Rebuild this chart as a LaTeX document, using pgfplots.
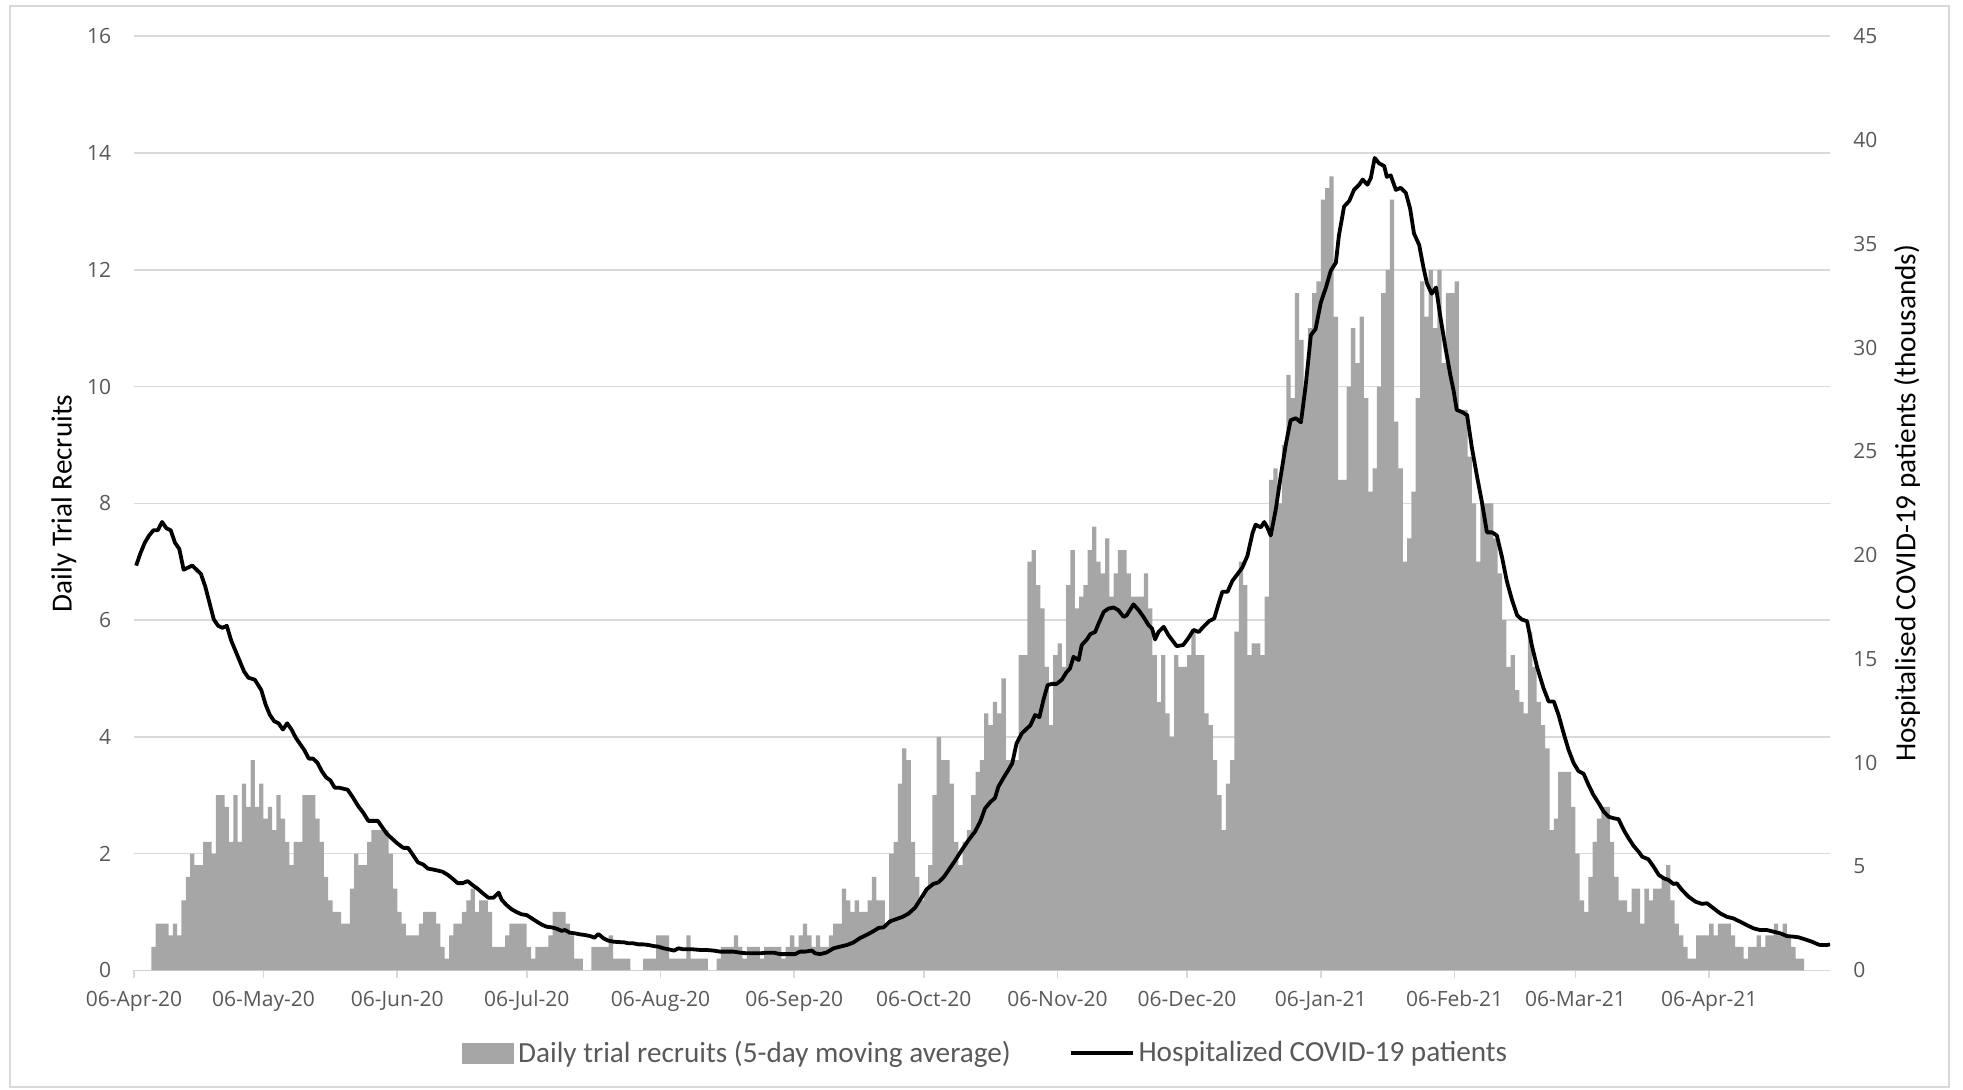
\documentclass[border=0pt]{standalone}
\usepackage{pgfplots}
\pgfplotsset{compat=1.18}
\usepackage{pgfplotstable}
\usepackage{fontspec}
\setmainfont{Carlito}
\newfontfamily\tickfont{Open Sans}
\definecolor{barc}{HTML}{A6A6A6}
\definecolor{gridc}{HTML}{D9D9D9}
\definecolor{tickc}{HTML}{595959}
\definecolor{legc}{HTML}{595959}

% daily trial recruits (5-day moving average), one row per day from 06-Apr-20
\pgfplotstableread[row sep=\\]{
v\\
0\\0\\0\\0\\0.4\\0.8\\0.8\\0.8\\0.6\\0.8\\
0.6\\1.2\\1.6\\2.0\\1.8\\1.8\\2.2\\2.2\\2.0\\3.0\\
3.0\\2.8\\2.2\\3.0\\2.2\\3.2\\2.8\\3.6\\2.8\\3.2\\
2.6\\2.8\\2.4\\3.0\\2.6\\2.2\\1.8\\2.2\\2.2\\3.0\\
3.0\\3.0\\2.6\\2.2\\1.6\\1.2\\1.0\\1.0\\0.8\\0.8\\
1.4\\2.0\\1.8\\1.8\\2.2\\2.4\\2.4\\2.4\\2.4\\2.0\\
1.4\\1.0\\0.8\\0.6\\0.6\\0.6\\0.8\\1.0\\1.0\\1.0\\
0.8\\0.4\\0.2\\0.6\\0.8\\0.8\\1.0\\1.2\\1.4\\1.0\\
1.2\\1.2\\1.0\\0.4\\0.4\\0.4\\0.6\\0.8\\0.8\\0.8\\
0.8\\0.4\\0.2\\0.4\\0.4\\0.4\\0.6\\1.0\\1.0\\1.0\\
0.8\\0.6\\0.2\\0.2\\0\\0\\0.4\\0.4\\0.4\\0.4\\
0.6\\0.2\\0.2\\0.2\\0.2\\0\\0\\0\\0.2\\0.2\\
0.2\\0.6\\0.6\\0.6\\0.2\\0.2\\0.2\\0.2\\0.6\\0.2\\
0.2\\0.2\\0.2\\0\\0\\0.2\\0.4\\0.4\\0.4\\0.6\\
0.4\\0.2\\0.4\\0.4\\0.4\\0.2\\0.4\\0.4\\0.4\\0.4\\
0.2\\0.4\\0.6\\0.4\\0.6\\0.8\\0.6\\0.4\\0.6\\0.4\\
0.4\\0.6\\0.8\\0.8\\1.4\\1.2\\1.0\\1.2\\1.0\\1.0\\
1.2\\1.6\\1.2\\1.2\\0.8\\2.0\\2.2\\3.2\\3.8\\3.6\\
2.2\\1.6\\1.2\\1.4\\1.8\\3.0\\4.0\\3.6\\3.6\\3.2\\
2.2\\1.8\\2.2\\2.4\\3.0\\3.4\\3.6\\4.4\\4.2\\4.6\\
4.4\\5.0\\3.6\\3.6\\3.6\\5.4\\5.4\\7.0\\7.2\\6.6\\
6.2\\5.2\\4.2\\5.4\\5.6\\5.2\\6.6\\7.2\\6.2\\6.4\\
6.6\\7.2\\7.6\\7.0\\6.8\\7.4\\6.4\\6.8\\7.2\\7.2\\
6.8\\6.4\\6.4\\6.4\\6.8\\6.2\\5.4\\4.6\\5.4\\4.4\\
4.0\\5.4\\5.2\\5.2\\5.4\\5.8\\5.4\\5.4\\4.4\\4.2\\
3.6\\3.0\\2.4\\3.2\\3.6\\5.8\\7.0\\6.6\\5.4\\5.6\\
5.6\\5.4\\6.4\\8.4\\8.6\\8.0\\9.0\\10.2\\9.8\\11.6\\
10.8\\10.0\\11.0\\11.6\\11.8\\13.2\\13.4\\13.6\\11.2\\8.4\\
8.4\\10.0\\11.0\\10.4\\11.2\\9.8\\8.2\\8.6\\10.0\\11.6\\
12.0\\13.2\\9.4\\8.6\\7.0\\7.4\\8.2\\9.8\\11.8\\11.2\\
12.0\\11.0\\12.0\\10.4\\11.6\\11.6\\11.8\\9.6\\9.6\\8.8\\
8.0\\7.0\\8.0\\8.0\\8.0\\7.4\\6.8\\6.0\\5.2\\5.4\\
4.8\\4.6\\4.4\\5.8\\5.2\\4.6\\4.2\\3.8\\2.4\\2.6\\
3.4\\3.4\\3.4\\2.8\\2.0\\1.2\\1.0\\1.6\\2.2\\2.6\\
2.8\\2.8\\2.2\\1.6\\1.2\\1.2\\1.0\\1.4\\1.4\\0.8\\
1.4\\1.2\\1.4\\1.4\\1.6\\1.8\\1.2\\0.8\\0.6\\0.4\\
0.2\\0.2\\0.6\\0.6\\0.6\\0.8\\0.6\\0.8\\0.8\\0.8\\
0.6\\0.4\\0.4\\0.2\\0.4\\0.4\\0.6\\0.4\\0.6\\0.6\\
0.8\\0.6\\0.8\\0.6\\0.4\\0.2\\0.2\\
}\bars

% hospitalised COVID-19 patients (thousands), day index and value
\pgfplotstableread{
d h
0 19.5
1 20.1
2 20.6
3 20.95
4 21.2
5 21.2
6 21.6
7 21.3
8 21.2
9 20.6
10 20.3
11 19.3
12 19.4
13 19.5
14 19.3
15 19.1
16 18.5
17 17.7
18 16.9
19 16.6
20 16.5
21 16.6
22 15.9
23 15.4
24 14.9
25 14.4
26 14.1
27.5 14.0
29 13.5
30 12.8
31 12.3
32 12.0
33 11.9
34 11.6
35 11.9
36 11.6
37 11.2
38 10.9
39 10.6
40 10.2
41 10.2
42 10.0
43 9.6
44 9.3
45 9.15
46 8.8
47 8.8
48 8.75
49 8.7
50 8.4
51.5 7.9
52.6 7.6
53.8 7.2
55 7.2
56 7.2
57 6.9
58 6.6
59 6.4
60.6 6.1
61.9 5.9
63 5.9
64 5.6
65.3 5.2
66.5 5.1
67.6 4.9
68.7 4.86
70 4.8
71 4.75
72.2 4.6
73.4 4.4
74.5 4.2
75.7 4.2
76.8 4.3
78 4.1
79 3.95
80.4 3.7
81.6 3.5
82.8 3.5
84 3.74
84.7 3.4
85.8 3.15
87 2.94
88.2 2.8
89.3 2.7
90.5 2.66
91.7 2.5
92.8 2.35
94 2.2
95.1 2.1
96.3 2.07
97.5 2.0
98.6 1.9
99.4 1.94
100.5 1.81
101.7 1.78
102.9 1.73
104 1.7
105.2 1.65
106.2 1.57
107.1 1.75
108.3 1.54
109.4 1.43
110.6 1.38
111.8 1.36
113 1.35
114.1 1.3
115.2 1.3
116.4 1.25
117.5 1.25
118.7 1.22
119.9 1.17
121 1.14
122.2 1.06
123.4 1.01
124.6 0.95
125.7 1.06
126.8 1.01
128 1.01
129.1 1.01
130.7 0.98
132.2 0.98
133.8 0.95
135.3 0.9
136.9 0.9
138.4 0.9
140 0.85
141.5 0.82
143 0.82
144.6 0.82
146.1 0.85
147.7 0.85
149.2 0.78
151.1 0.78
152.7 0.78
153.8 0.9
155 0.9
156.6 0.95
157.3 0.82
158.5 0.78
160 0.86
161.6 1.06
163.1 1.14
164.7 1.22
166.2 1.34
167.7 1.55
169.3 1.71
170.8 1.88
172 2.04
173.2 2.07
174.7 2.36
175.9 2.45
177.4 2.56
178.9 2.72
180.5 3.02
181.6 3.38
183.2 3.91
184.7 4.16
185.9 4.24
187.1 4.48
188.2 4.81
189.8 5.3
191.3 5.79
192.9 6.28
194.4 6.69
195.6 7.17
196.7 7.8
197.9 8.1
199 8.3
199.8 8.85
201 9.28
202.1 9.65
203 9.97
204 10.93
205.2 11.41
206.4 11.65
207.2 11.8
208.3 12.3
209.3 12.2
210.2 13.0
211.2 13.74
212.2 13.8
213.3 13.8
214.5 14.0
215.5 14.34
216.4 14.55
217.2 15.1
218.4 14.95
219.1 15.67
220.3 15.94
221.1 16.2
222.2 16.3
223 16.7
224.2 17.27
225.3 17.43
226.5 17.48
227.6 17.35
228.8 17.03
229.5 17.1
231.1 17.63
232.3 17.35
233.4 17.03
234.6 16.63
235.4 16.47
236.1 15.94
236.9 16.3
238.1 16.55
239.2 16.15
241.1 15.62
242.6 15.67
243.8 16.0
245 16.4
246.2 16.3
247.3 16.55
248.6 16.82
249.8 16.95
250.9 17.72
251.7 18.24
252.9 18.24
254 18.76
255.2 19.09
256.3 19.4
257.5 19.97
258.7 21.08
259.4 21.47
260.6 21.34
261.4 21.6
262.1 21.34
262.9 20.95
264.1 22.24
265.2 23.79
266.4 25.34
267.5 26.5
268.7 26.6
269.9 26.4
271 28.17
272.2 30.6
273.3 30.9
274.5 32.17
275.7 32.9
276.8 33.7
278 34.1
278.7 35.4
279.9 36.8
281.1 37.07
282.2 37.6
283.4 37.85
284.2 38.1
285.3 37.85
286.1 38.18
287 39.14
288 38.88
289.2 38.75
289.8 38.23
290.7 38.3
291.9 37.6
293 37.7
294.2 37.46
295.2 36.7
296.1 35.5
297.3 34.95
298.3 33.85
299.1 33.1
300.2 32.6
301.2 32.9
302.2 31.5
303.3 30.1
304.5 28.7
305.3 27.9
306 27.0
307.2 26.9
308.4 26.75
309.5 25.2
310.7 23.8
311.8 22.6
313 21.1
314.2 21.1
315.3 20.95
316.5 19.9
317.6 18.76
318.8 17.85
320 17.1
321.1 16.9
322.3 16.82
323.4 15.66
324.6 14.63
326.1 13.6
327.3 12.95
328.5 12.95
329.6 12.3
330.8 11.4
331.9 10.63
333.1 9.98
334.2 9.6
335.4 9.47
336.5 8.95
337.7 8.44
338.9 8.05
340 7.66
341.2 7.4
342.3 7.33
343.5 7.28
344.7 6.76
345.8 6.37
347 5.99
348.2 5.7
349 5.47
350.4 5.35
351.6 5.0
352.8 4.6
354 4.43
355.1 4.35
356.2 4.16
357 4.19
358.2 3.87
359.7 3.55
361.3 3.31
362.8 3.2
364 3.23
365.5 2.99
367 2.75
368.6 2.58
370.1 2.5
371.7 2.34
373.2 2.18
374.8 2.02
376.3 1.94
377.9 1.94
379.4 1.86
381 1.78
382.5 1.65
384.1 1.62
385.2 1.59
386.7 1.49
388.3 1.38
389.5 1.27
390.2 1.22
391.8 1.22
392.5 1.25
}\hosp

\begin{document}
\begin{tikzpicture}
\useasboundingbox (0,0) rectangle (981.5pt,544.5pt);
\draw[gridc, line width=0.8pt] (5pt,1pt) rectangle (974.5pt,541.5pt);
\begin{axis}[
  at={(67pt,59.35pt)}, anchor=south west,
  scale only axis, width=848pt, height=467pt,
  xmin=0, xmax=393, ymin=0, ymax=16,
  axis y line*=left, axis x line*=bottom,
  y axis line style={draw=none},
  x axis line style={gridc, line width=0.8pt, -},
  ymajorgrids, major grid style={gridc, line width=0.8pt},
  ytick={0,2,...,16},
  xtick={0,30,61,91,122,153,183,214,244,275,306,334,365},
  xticklabels={06-Apr-20,06-May-20,06-Jun-20,06-Jul-20,06-Aug-20,06-Sep-20,06-Oct-20,06-Nov-20,06-Dec-20,06-Jan-21,06-Feb-21,06-Mar-21,06-Apr-21},
  xtick style={gridc, line width=0.8pt},
  xtick align=outside, major tick length=4pt,
  ytick style={draw=none},
  /pgf/number format/assume math mode=true,
  ticklabel style={font=\tickfont\fontsize{10.5}{12}\selectfont, text=tickc},
  yticklabel style={anchor=east, inner sep=0pt, xshift=-11.2pt},
  xticklabel style={anchor=base, inner sep=0pt, yshift=-14pt},
  ylabel={Daily Trial Recruits},
  ylabel style={at={(axis description cs:-0.0413,0.5)}, anchor=center, rotate=0, font=\fontsize{14.6}{17}\selectfont},
]
\addplot[ybar, bar width=1, bar shift=0pt, fill=barc, draw=none]
  table[x expr=\coordindex+0.5, y=v] {\bars};
\end{axis}
\begin{axis}[
  at={(67pt,59.35pt)}, anchor=south west,
  scale only axis, width=848pt, height=467pt,
  xmin=0, xmax=393, ymin=0, ymax=45,
  axis y line*=right, axis x line=none,
  y axis line style={draw=none},
  ytick={0,5,...,45}, ytick style={draw=none},
  /pgf/number format/assume math mode=true,
  yticklabel style={anchor=west, inner sep=0pt, xshift=11.5pt, font=\tickfont\fontsize{10.5}{12}\selectfont, text=tickc},
  ylabel={Hospitalised COVID-19 patients (thousands)},
  ylabel style={at={(axis description cs:1.0454,0.5)}, anchor=center, rotate=0, font=\fontsize{14.6}{17}\selectfont},
  legend style={at={(axis description cs:0.5027,-0.0885)}, anchor=center, draw=none, fill=none,
    font=\fontsize{14.6}{17}\selectfont, text=legc, nodes={inner sep=2pt},
    /tikz/every even column/.append style={column sep=27pt}},
  legend columns=2,
]
\addlegendimage{legend image code/.code={\fill[barc] (0pt,-5pt) rectangle (25.7pt,5pt);}}
\addlegendentry{Daily trial recruits (5-day moving average)}
\addplot[black, line width=1.9pt, line join=round, mark=none,
  legend image code/.code={\draw[black, line width=1.9pt] (0pt,0pt) -- (31pt,0pt);}]
  table[x expr=\thisrow{d}+0.5, y=h] {\hosp};
\addlegendentry{Hospitalized COVID-19 patients}
\end{axis}
\end{tikzpicture}
\end{document}
